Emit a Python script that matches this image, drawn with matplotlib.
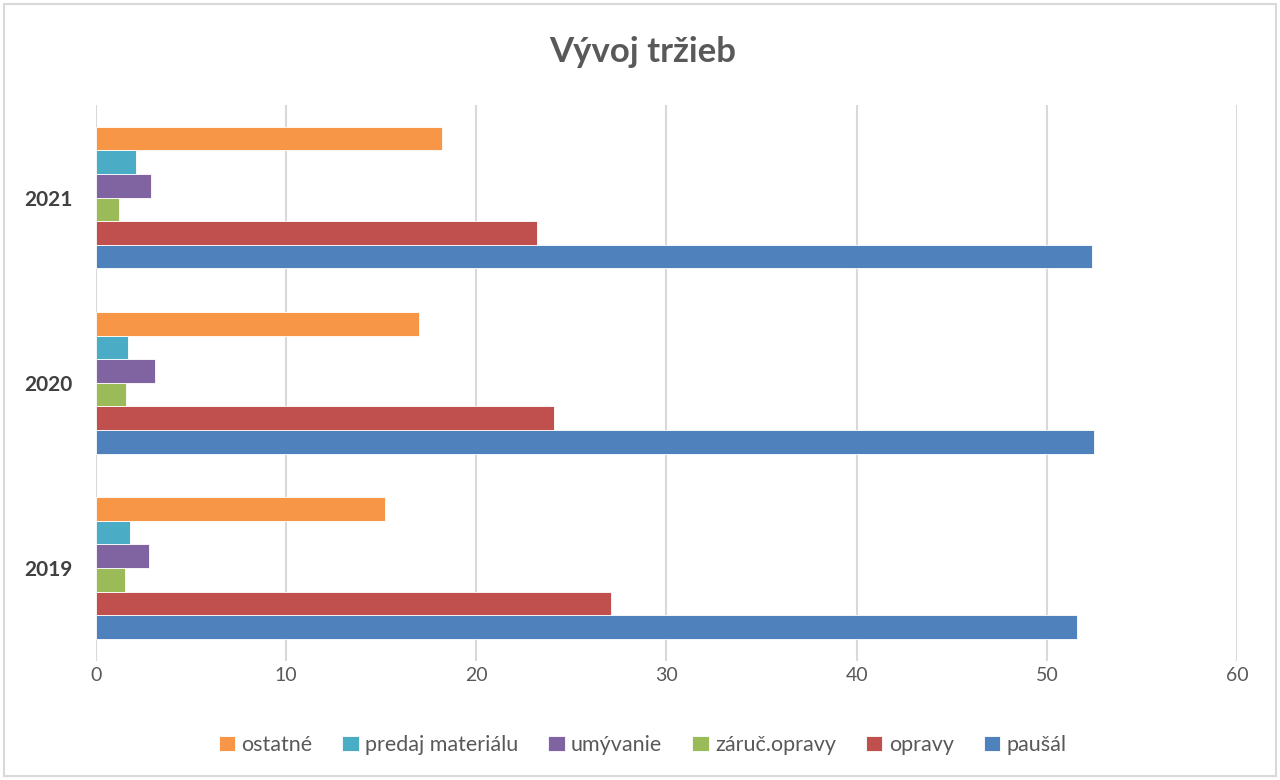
import numpy as np
import matplotlib.pyplot as plt
from matplotlib.patches import Rectangle

plt.rcParams['font.family'] = ['Lato', 'DejaVu Sans']

years = ['2019', '2020', '2021']
series = ['paušál', 'opravy', 'záruč.opravy', 'umývanie', 'predaj materiálu', 'ostatné']
colors = ['#4F81BD', '#C0504D', '#9BBB59', '#8064A2', '#4BACC6', '#F79646']

pausal = [51.6, 52.5, 52.4]
opravy = [27.1, 24.1, 23.2]
zaruc_opravy = [1.5, 1.6, 1.2]
umyvanie = [2.8, 3.1, 2.9]
predaj_materialu = [1.8, 1.7, 2.1]
ostatne = [15.2, 17.0, 18.2]

values = [pausal, opravy, zaruc_opravy, umyvanie, predaj_materialu, ostatne]

fig = plt.figure(figsize=(12.8, 7.8), dpi=100)
ax = fig.add_axes([0.075, 0.1532, 0.8914, 0.7122])

y = np.arange(len(years))
h = 0.1275
bars = []
for i, (name, vals, c) in enumerate(zip(series, values, colors)):
    b = ax.barh(y + (i - 2.5) * h, vals, height=h, color=c, label=name,
                edgecolor='white', linewidth=0.6, zorder=3)
    bars.append(b)

ax.set_xlim(0, 60)
ax.set_ylim(-0.5, 2.5)
ax.set_xticks(range(0, 61, 10))
ax.set_yticks(y)
ax.set_yticklabels(years, fontweight='bold', fontsize=15, color='#404040')
ax.tick_params(axis='x', labelsize=14, colors='#595959', length=0, pad=5)
ax.tick_params(axis='y', length=0, pad=17)
ax.grid(axis='x', color='#D9D9D9', linewidth=1.5, zorder=0)
for s in ax.spines.values():
    s.set_visible(False)

fig.suptitle('Vývoj tržieb', x=0.502, y=0.933, va='center', fontsize=25,
             fontweight='bold', color='#595959')

handles = bars[::-1]
labels = series[::-1]
fig.legend(handles, labels, loc='center', bbox_to_anchor=(0.502, 0.045), ncol=6,
           frameon=False, fontsize=15.5, handlelength=0.75, handleheight=0.75,
           handletextpad=0.3, columnspacing=1.4, labelcolor='#595959')

fig.patches.append(Rectangle((0.003, 0.005), 0.994, 0.99, transform=fig.transFigure,
                             fill=False, edgecolor='#D9D9D9', linewidth=1.5))

plt.savefig('out.png', dpi=100)
